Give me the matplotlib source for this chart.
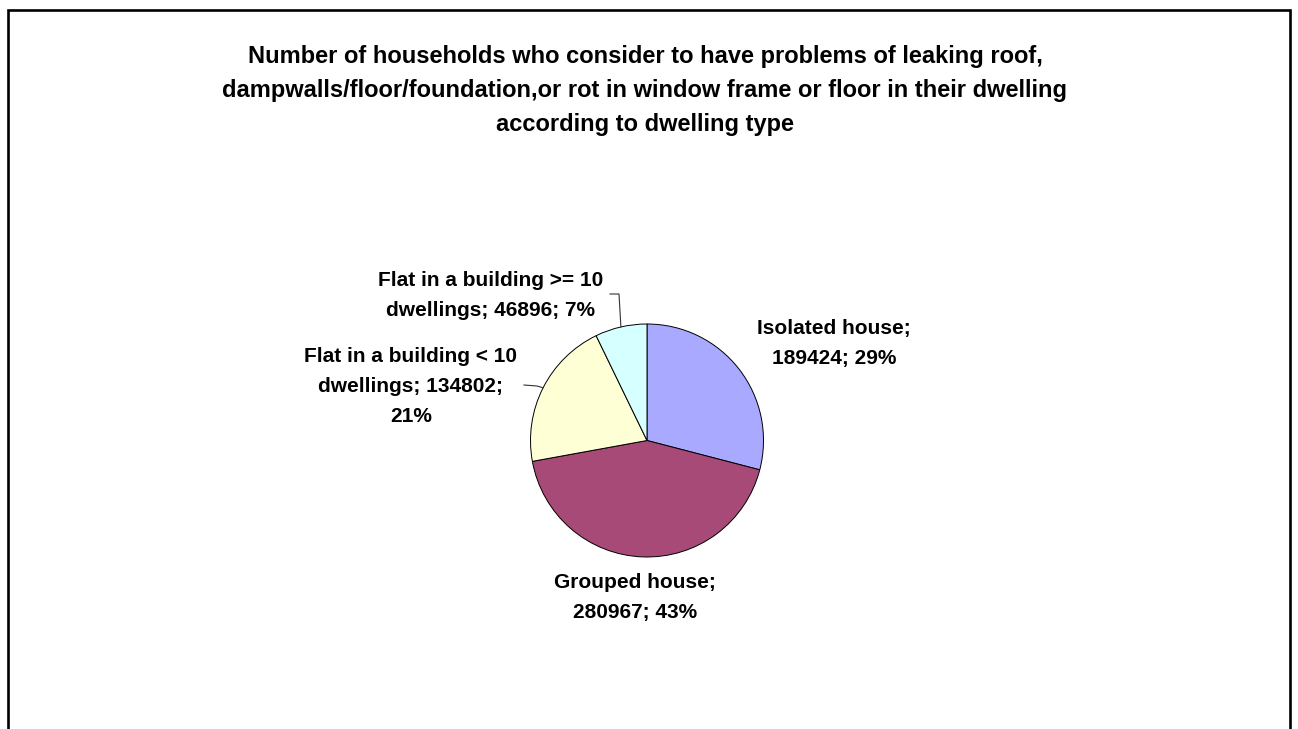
import numpy as np
import matplotlib
matplotlib.use("Agg")
import matplotlib.pyplot as plt

plt.rcParams['font.family'] = ['Liberation Sans', 'DejaVu Sans']

categories = ["Isolated house", "Grouped house",
              "Flat in a building < 10 dwellings",
              "Flat in a building >= 10 dwellings"]
households = [189424, 280967, 134802, 46896]
colors = ["#A9A9FF", "#A84A78", "#FFFFD6", "#D6FFFF"]
# how excel wrapped each label
label_fmt = ["Isolated house;\n{v}; {p}%",
             "Grouped house;\n{v}; {p}%",
             "Flat in a building < 10\ndwellings; {v};\n{p}%",
             "Flat in a building >= 10\ndwellings; {v}; {p}%"]
title_lines = ["Number of households who consider to have problems of leaking roof,",
               "dampwalls/floor/foundation,or rot in window frame or floor in their dwelling",
               "according to dwelling type"]

W, H = 1298, 729


def py(y):
    # pixel row -> data y
    return H - y


fig = plt.figure(figsize=(W / 100, H / 100), dpi=100)
ax = fig.add_axes([0, 0, 1, 1])

cx, cy, r = 647, py(440.5), 116.5
wedges, _ = ax.pie(households, colors=colors, startangle=90, counterclock=False,
                   center=(cx, cy), radius=r,
                   wedgeprops=dict(edgecolor="black", linewidth=0.7))
ax.set_xlim(0, W)
ax.set_ylim(0, H)
ax.set_aspect("equal")
ax.axis("off")

total = sum(households)
pcts = [round(100 * v / total) for v in households]
texts = [f.format(v=v, p=p) for f, v, p in zip(label_fmt, households, pcts)]

# x centre, baseline of first line (pixels)
label_pos = [(834, 334), (635, 588), (411, 362), (491, 286)]
for t, (x, y) in zip(texts, label_pos):
    for k, line in enumerate(t.split("\n")):
        ax.text(x, py(y + 30 * k), line, ha="center", va="baseline",
                fontsize=15, fontweight="bold")

# leader lines for the two small slices
leader_start = {2: [(524, 385), (537, 386)], 3: [(610, 294), (619, 294)]}
for i, pts in leader_start.items():
    w = wedges[i]
    mid = np.deg2rad((w.theta1 + w.theta2) / 2)
    ex, ey = cx + r * np.cos(mid), cy + r * np.sin(mid)
    xs = [p[0] for p in pts] + [ex]
    ys = [py(p[1]) for p in pts] + [ey]
    ax.plot(xs, ys, color="#333333", linewidth=0.8)

for k, line in enumerate(title_lines):
    ax.text(645, py(63 + 34 * k), line, ha="center", va="baseline",
            fontsize=17, fontweight="bold")

# chart border (bottom edge is cut off in the original)
ax.plot([8, 8, 1290, 1290], [-10, py(9.5), py(9.5), -10], color="black",
        linewidth=1.9, solid_joinstyle="miter", clip_on=False)

fig.savefig("out.png", dpi=100)
